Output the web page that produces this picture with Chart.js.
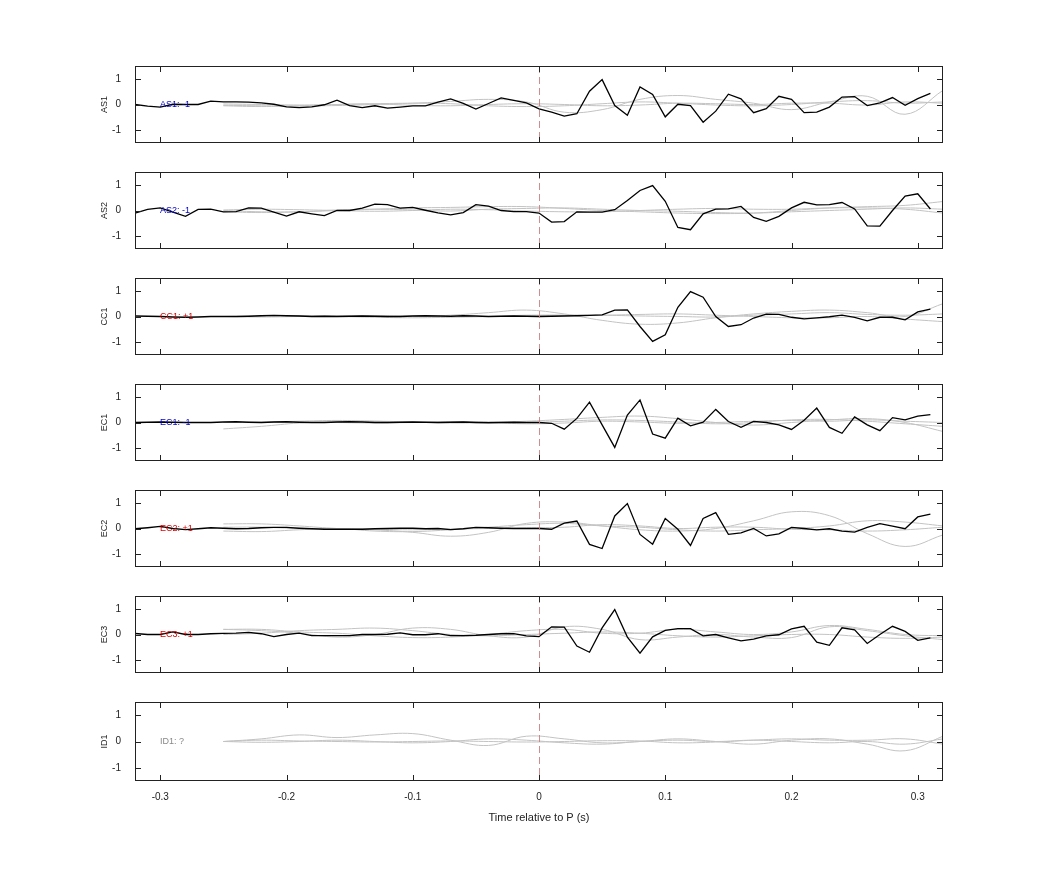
<!DOCTYPE html>
<html><head><meta charset="utf-8">
<script src="https://cdn.jsdelivr.net/npm/chart.js@4"></script>
<style>body{margin:0;background:#fff;width:1042px;height:875px;position:relative;overflow:hidden}canvas{position:absolute;left:0}</style>
</head><body>
<script>
const times = [-0.32,-0.31,-0.30,-0.29,-0.28,-0.27,-0.26,-0.25,-0.24,-0.23,-0.22,-0.21,-0.20,-0.19,-0.18,-0.17,-0.16,-0.15,-0.14,-0.13,-0.12,-0.11,-0.10,-0.09,-0.08,-0.07,-0.06,-0.05,-0.04,-0.03,-0.02,-0.01,
0.00,0.01,0.02,0.03,0.04,0.05,0.06,0.07,0.08,0.09,0.10,0.11,0.12,0.13,0.14,0.15,0.16,0.17,0.18,0.19,0.20,0.21,0.22,0.23,0.24,0.25,0.26,0.27,0.28,0.29,0.30,0.31];
const grayTimes = [-0.25,-0.22,-0.19,-0.16,-0.13,-0.10,-0.07,-0.04,-0.01,0.02,0.05,0.08,0.11,0.14,0.17,0.20,0.23,0.26,0.29,0.32];
const stations = ["AS1","AS2","CC1","EC1","EC2","EC3","ID1"];
const stationNotes = ["AS1: -1","AS2: -1","CC1: +1","EC1: -1","EC2: +1","EC3: +1","ID1: ?"];
const noteColors = ["#0000cc","#0000cc","#dd0000","#0000cc","#dd0000","#dd0000","#888888"];
const xTicks = [-0.3,-0.2,-0.1,0,0.1,0.2,0.3];
const yTicks = [-1,0,1];

const blackAS1 = [0,-0.06,-0.1,0.01,0,0,0.13,0.1,0.1,0.09,0.06,0.01,-0.09,-0.12,-0.09,-0.01,0.17,-0.04,-0.12,-0.05,-0.14,-0.1,-0.05,-0.05,0.09,0.22,0.04,-0.18,0.04,0.26,0.16,0.06,
-0.17,-0.3,-0.45,-0.36,0.52,0.97,-0.04,-0.42,0.68,0.39,-0.48,0.01,-0.04,-0.69,-0.26,0.4,0.22,-0.32,-0.16,0.32,0.2,-0.32,-0.3,-0.1,0.29,0.31,-0.04,0.06,0.27,-0.03,0.23,0.43];
const blackAS2 = [-0.1,0.04,0.1,-0.06,-0.23,0.04,0.05,-0.05,-0.04,0.1,0.09,-0.06,-0.22,-0.05,-0.13,-0.2,0,0,0.09,0.25,0.23,0.09,0.12,0.01,-0.09,-0.17,-0.08,0.23,0.17,0,-0.04,-0.04,
-0.1,-0.45,-0.43,-0.05,-0.06,-0.06,0.03,0.39,0.78,0.97,0.36,-0.66,-0.75,-0.13,0.05,0.06,0.16,-0.27,-0.42,-0.23,0.1,0.32,0.22,0.23,0.31,0.06,-0.6,-0.61,0,0.56,0.65,0.06];
const blackCC1 = [0.02,0.01,0,-0.02,-0.03,-0.02,0,0,0,0.01,0.03,0.04,0.03,0.02,0,0.01,0,0.01,0.02,0.01,0,0,0.02,0.03,0.02,0.01,0.03,0.02,0,0.01,0.02,0.01,
0,0.01,0.02,0.03,0.04,0.06,0.25,0.26,-0.39,-0.97,-0.71,0.36,0.97,0.75,0,-0.39,-0.32,-0.06,0.09,0.08,-0.03,-0.09,-0.05,-0.01,0.05,-0.03,-0.17,-0.03,-0.03,-0.13,0.18,0.29];
const blackEC1 = [0,0.01,0.02,0.01,0,0,0,0.02,0.03,0.01,0,0.02,0.03,0.01,0,0,0.02,0.03,0.02,0,0,0.01,0.02,0.01,0,0.01,0.02,0,-0.01,0,0.01,0,
0,-0.03,-0.26,0.16,0.79,-0.09,-0.97,0.29,0.88,-0.45,-0.61,0.17,-0.13,0.01,0.51,0.04,-0.19,0.04,0,-0.09,-0.27,0.09,0.56,-0.19,-0.42,0.22,-0.09,-0.32,0.19,0.1,0.25,0.31];
const blackEC2 = [-0.01,0.03,0.08,0,-0.04,-0.01,0.03,0.01,-0.01,0,0.03,0.04,0.04,0.01,-0.01,-0.03,-0.03,-0.03,-0.03,-0.01,0,0.01,0.01,-0.01,0,-0.04,-0.01,0.04,0.03,0.01,0,0,
0,-0.03,0.21,0.29,-0.62,-0.78,0.49,0.97,-0.23,-0.61,0.39,-0.03,-0.66,0.39,0.62,-0.23,-0.17,0,-0.29,-0.21,0.04,0,-0.05,-0.01,-0.1,-0.14,0.04,0.19,0.09,-0.01,0.45,0.56];
const blackEC3 = [0.04,0,0,0.1,0,0,0.03,0.04,0.05,0.08,0.03,-0.08,0,0.05,-0.04,-0.04,-0.04,-0.04,0,0,0.01,0.06,-0.01,-0.01,0.03,-0.04,-0.04,-0.03,0,0.03,0.03,-0.05,
-0.08,0.3,0.29,-0.45,-0.69,0.26,0.97,-0.1,-0.73,-0.09,0.16,0.23,0.23,-0.05,0,-0.13,-0.25,-0.18,-0.05,-0.01,0.22,0.32,-0.3,-0.42,0.26,0.18,-0.35,0,0.32,0.12,-0.23,-0.13];
const blackID1 = null;

const grayAS1 = [[-0.03,-0.05,-0.06,-0.04,0,0.05,0.12,0.2,0.1,-0.3,-0.2,0.2,0.35,0.2,0.05,-0.2,0.1,0.32,-0.38,0.55],
 [0.02,0,-0.02,0,0.03,0.05,0.03,-0.05,-0.08,-0.05,0.03,0.1,0.05,-0.02,-0.05,0,0.1,0.15,0.05,0.1],
 [-0.05,-0.08,-0.05,0,0.02,-0.03,-0.05,0,0.03,0,-0.05,-0.02,0.05,0.03,0,0.05,0.05,-0.02,0.1,0.05]];
const grayAS2 = [[0,-0.05,-0.05,0,0.05,0.1,0.12,0.15,0.15,0.08,0,-0.05,-0.1,-0.12,-0.1,0,0.1,0.15,0.2,0.35],
 [-0.05,-0.08,-0.05,0.02,0.05,0.02,-0.02,0.05,0.08,0.1,0.05,0,-0.03,-0.08,-0.1,-0.05,0,0.05,0.1,0.05],
 [0.02,0.05,0.03,0,-0.03,0,0.05,0.03,-0.02,-0.05,-0.05,0,0.05,0.08,0.05,0.05,0.1,0.1,0.05,-0.1]];
const grayCC1 = [[0,0,0.02,0.03,0.02,0,0.05,0.15,0.25,0.1,-0.15,-0.3,-0.25,-0.05,0.1,0.2,0.25,0.15,0,0.5],
 [0,0.02,0.03,0,-0.03,-0.05,-0.03,0,0.03,0.05,0.05,0.08,0.1,0.05,0,-0.05,-0.05,0,-0.1,-0.2],
 [0,-0.02,0,0.02,0.03,0.02,0,0,0.05,0.05,0.05,0.02,0,-0.02,0.05,0.1,0.15,0.08,0.05,0.1]];
const grayEC1 = [[-0.25,-0.15,-0.02,0.03,0.05,0.02,-0.02,0,0.05,0.12,0.2,0.25,0.15,0,-0.1,0,0.1,0.15,0,-0.35],
 [0,0.02,0.05,0.08,0.05,0,0.02,0.03,0,0.05,0.1,0.08,0.02,-0.05,0,0.1,0.12,0.05,-0.05,-0.15],
 [0,0,0.02,0,-0.02,0,0.03,0,-0.05,-0.02,0.05,0.02,-0.03,0,0.05,0.08,0.05,0.1,0.05,0]];
const grayEC2 = [[0.18,0.18,0.1,0,-0.05,-0.15,-0.3,-0.15,0.2,0.25,0.1,-0.05,-0.1,0,0.3,0.65,0.5,-0.2,-0.7,-0.25],
 [-0.1,-0.12,-0.05,0,-0.1,-0.12,-0.05,0.05,0.15,0.2,0.1,0.05,-0.05,-0.1,-0.05,0,0.1,0.3,0.25,0.1],
 [0.05,0.05,0,0,-0.03,-0.05,-0.02,0,0.03,0.05,0.15,0.1,0,0.05,0.05,-0.03,-0.05,-0.1,-0.05,0.05]];
const grayEC3 = [[0.2,0.15,0.05,-0.1,0,0.25,0.2,-0.05,-0.1,0.3,0.2,-0.2,-0.1,0,-0.1,-0.12,0.3,0.15,-0.05,-0.2],
 [0.2,0.2,0.1,0.05,-0.05,-0.12,-0.1,0,0.15,0.2,0.05,0.05,0.2,0.1,0,0.1,0.35,0.2,0,-0.05],
 [0,0.05,0.15,0.2,0.25,0.15,0,-0.05,0,0.05,0.1,0.05,-0.05,-0.1,-0.05,0,0,-0.1,-0.15,-0.1]];
const grayID1 = [[0,0.1,0.25,0.15,0.25,0.3,0.05,-0.15,0.2,0.1,-0.05,0,0.1,0,-0.1,0.05,0.1,-0.1,-0.35,0.2],
 [0,-0.03,0,0.05,0,-0.05,0,0.1,0.05,-0.05,-0.1,0,0.05,0,0.05,0,-0.05,0,-0.1,0.1],
 [0,0.05,0.02,0,-0.02,0,0.02,0,-0.02,0,0.03,0.02,-0.05,-0.02,0.05,0.1,0.05,0.05,0.1,-0.1]];

const blacks = [blackAS1,blackAS2,blackCC1,blackEC1,blackEC2,blackEC3,blackID1];
const grays = [grayAS1,grayAS2,grayCC1,grayEC1,grayEC2,grayEC3,grayID1];

const FONT = "'Liberation Sans', Arial, sans-serif";

function framePlugin(i, last){
  return {id:'frame'+i, afterDatasetsDraw(chart){
    const c=chart.ctx, a=chart.chartArea, xs=chart.scales.x, ys=chart.scales.y;
    c.save();
    const x0=xs.getPixelForValue(0);
    c.strokeStyle='rgba(200,130,130,0.9)'; c.lineWidth=1; c.setLineDash([7,4]);
    c.beginPath(); c.moveTo(x0+0.5,a.top); c.lineTo(x0+0.5,a.bottom); c.stroke();
    c.setLineDash([]);
    c.strokeStyle='#222'; c.lineWidth=1;
    c.strokeRect(a.left+0.5,a.top+0.5,a.right-a.left-1,a.bottom-a.top-1);
    c.beginPath();
    xTicks.forEach(v=>{const p=Math.round(xs.getPixelForValue(v))+0.5;
      c.moveTo(p,a.bottom);c.lineTo(p,a.bottom-6);c.moveTo(p,a.top);c.lineTo(p,a.top+6);});
    yTicks.forEach(v=>{const p=Math.round(ys.getPixelForValue(v))+0.5;
      c.moveTo(a.left,p);c.lineTo(a.left+6,p);c.moveTo(a.right,p);c.lineTo(a.right-6,p);});
    c.stroke();
    c.font='9px '+FONT; c.fillStyle=noteColors[i]; c.textBaseline='middle'; c.textAlign='left';
    c.fillText(stationNotes[i], 160, ys.getPixelForValue(0));
    c.fillStyle='#222'; c.translate(105,(a.top+a.bottom)/2); c.rotate(-Math.PI/2);
    c.textAlign='center'; c.fillText(stations[i],0,0);
    c.restore();
    if(last){
      c.save(); c.font='11px '+FONT; c.fillStyle='#222'; c.textAlign='center'; c.textBaseline='middle';
      c.fillText('Time relative to P (s)', (a.left+a.right)/2, a.bottom+37); c.restore();
    }
  }};
}

stations.forEach((name,i)=>{
  const last = i===stations.length-1;
  const cv=document.createElement('canvas');
  const top=66+106*i-12, h= last?155:101;
  cv.style.top=top+'px'; cv.width=1042; cv.height=h; cv.style.width='1042px'; cv.style.height=h+'px';
  document.body.appendChild(cv);
  const ds=[];
  grays[i].forEach(g=>ds.push({data:grayTimes.map((t,k)=>({x:t,y:g[k]})),borderColor:'rgb(195,195,195)',borderWidth:1,tension:0.4,pointRadius:0,order:2}));
  if(blacks[i]) ds.push({data:times.map((t,k)=>({x:t,y:blacks[i][k]})),borderColor:'#000',borderWidth:1.3,tension:0,pointRadius:0,order:1});
  new Chart(cv,{type:'line',data:{datasets:ds},
    options:{responsive:false,animation:false,events:[],devicePixelRatio:1,
      layout:{padding:{top:10,right:99,left:0,bottom:0}},
      plugins:{legend:{display:false},tooltip:{enabled:false}},
      scales:{
        x:{type:'linear',min:-0.32,max:0.32,afterBuildTicks(s){s.ticks=xTicks.map(v=>({value:v}));},
          grid:{display:false},border:{display:false},
          ticks:{display:last,font:{size:10,family:FONT},color:'#222',padding:2,maxRotation:0,callback:v=>String(v===0?0:v)},
          afterFit(s){s.height= last?64:10;}},
        y:{min:-1.5,max:1.5,afterBuildTicks(s){s.ticks=yTicks.map(v=>({value:v}));},
          grid:{display:false},border:{display:false},
          ticks:{font:{size:10,family:FONT},color:'#222',padding:6},
          afterFit(s){s.width=135;}}
      }},
    plugins:[framePlugin(i,last)]});
});
</script>
</body></html>
